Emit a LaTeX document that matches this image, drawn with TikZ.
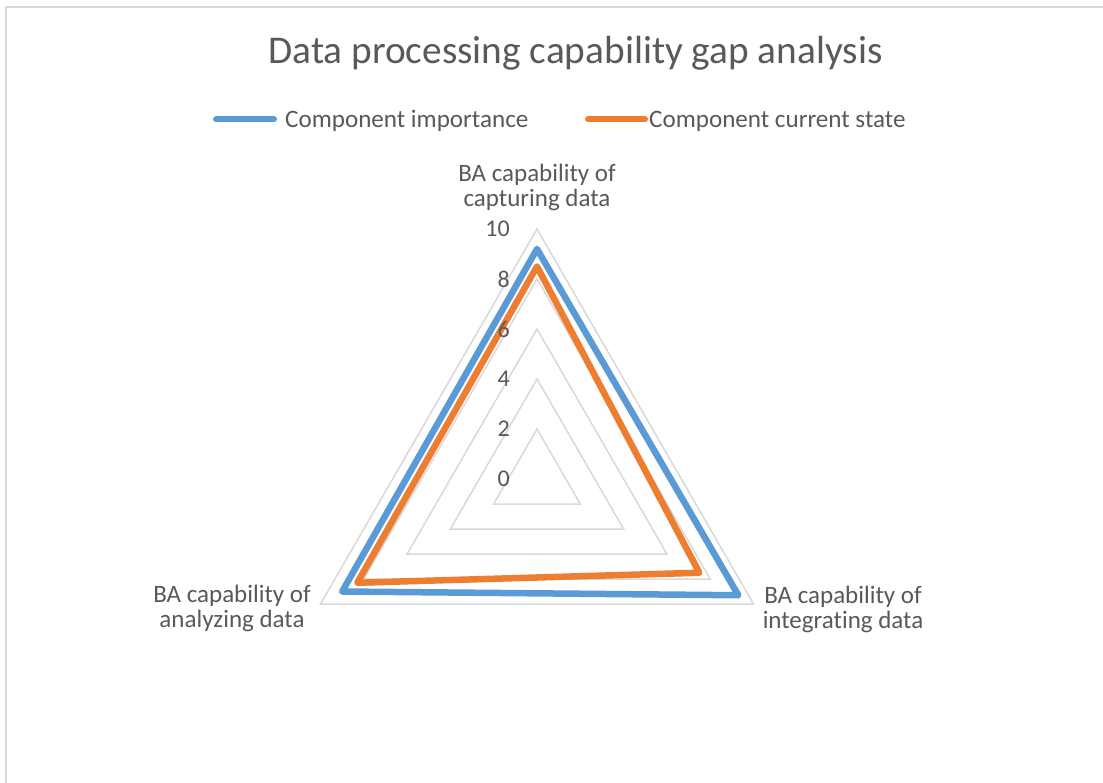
\documentclass[tikz,border=0pt]{standalone}
\usepackage{fontspec}
\setmainfont{Carlito}[Ligatures={NoCommon}]
\definecolor{txtgray}{HTML}{595959}
\definecolor{gridgray}{HTML}{D9D9D9}
\definecolor{framegray}{HTML}{D9D9D9}
\definecolor{seriesblue}{HTML}{5B9BD5}
\definecolor{seriesorange}{HTML}{ED7D31}
\tikzset{
  chartframe/.style={draw=framegray, line width=1.5pt},
  gridtri/.style={draw=gridgray, line width=1.5pt},
  serieslines/.style={line width=6.5pt, line join=round, line cap=round},
  bluepoly/.style={serieslines, draw=seriesblue},
  orangepoly/.style={serieslines, draw=seriesorange},
  keyline/.style={line width=6pt, line cap=round},
  charttitle/.style={text=txtgray, font=\fontsize{39.3}{47}\selectfont, inner sep=0pt},
  legendtext/.style={text=txtgray, font=\fontsize{25.1}{30}\selectfont, inner sep=0pt},
  ticklabel/.style={text=txtgray, font=\fontsize{24}{28}\selectfont, inner sep=0pt},
  axislabel/.style={text=txtgray, font=\fontsize{25}{25.5}\selectfont, align=center, inner sep=0pt}
}
\begin{document}
\begin{tikzpicture}[x=1pt, y=-1pt]
  \useasboundingbox (0,0) rectangle (1103,783);
  \fill[white] (0,0) rectangle (1103,783);
  % chart area border (open towards right and bottom)
  \draw[chartframe] (6,783) -- (6,7) -- (1103,7);

  % title
  \node[charttitle, anchor=base] (title) at (575.5,64) {Data processing capability gap analysis};

  % legend
  \coordinate (kb1) at (216,119.5);
  \coordinate (kb2) at (274,119.5);
  \draw[keyline, seriesblue] (kb1) -- (kb2);
  \node[legendtext, anchor=base west] (leg1) at (285,128) {Component importance};
  \coordinate (ko1) at (588,119.5);
  \coordinate (ko2) at (645,119.5);
  \draw[keyline, seriesorange] (ko1) -- (ko2);
  \node[legendtext, anchor=base west] (leg2) at (649,128) {Component current state};

  % radar grid and series (25pt per unit)
  \begin{scope}[shift={(537,479)}]
    \foreach \r in {2,4,6,8,10} {
      \draw[gridtri] (-90:\r*25) -- (30:\r*25) -- (150:\r*25) -- cycle;
    }
    \coordinate (b1) at (-90:9.2*25);
    \coordinate (b2) at (30:9.3*25);
    \coordinate (b3) at (150:9.0*25);
    \draw[bluepoly] (b1) -- (b2) -- (b3) -- cycle;
    \coordinate (o1) at (-90:8.5*25);
    \coordinate (o2) at (30:7.5*25);
    \coordinate (o3) at (150:8.3*25);
    \draw[orangepoly] (o1) -- (o2) -- (o3) -- cycle;
  \end{scope}

  % value axis labels
  \foreach \v in {0,2,4,6,8,10} {
    \node[ticklabel, anchor=east] (tick\v) at (510,479-25*\v) {\v};
  }

  % category labels
  \node[axislabel] (capA) at (537,187.5) {BA capability of\\capturing data};
  \node[axislabel] (capB) at (843,609.5) {BA capability of\\integrating data};
  \node[axislabel] (capC) at (232,608.5) {BA capability of\\analyzing data};
\end{tikzpicture}
\end{document}
